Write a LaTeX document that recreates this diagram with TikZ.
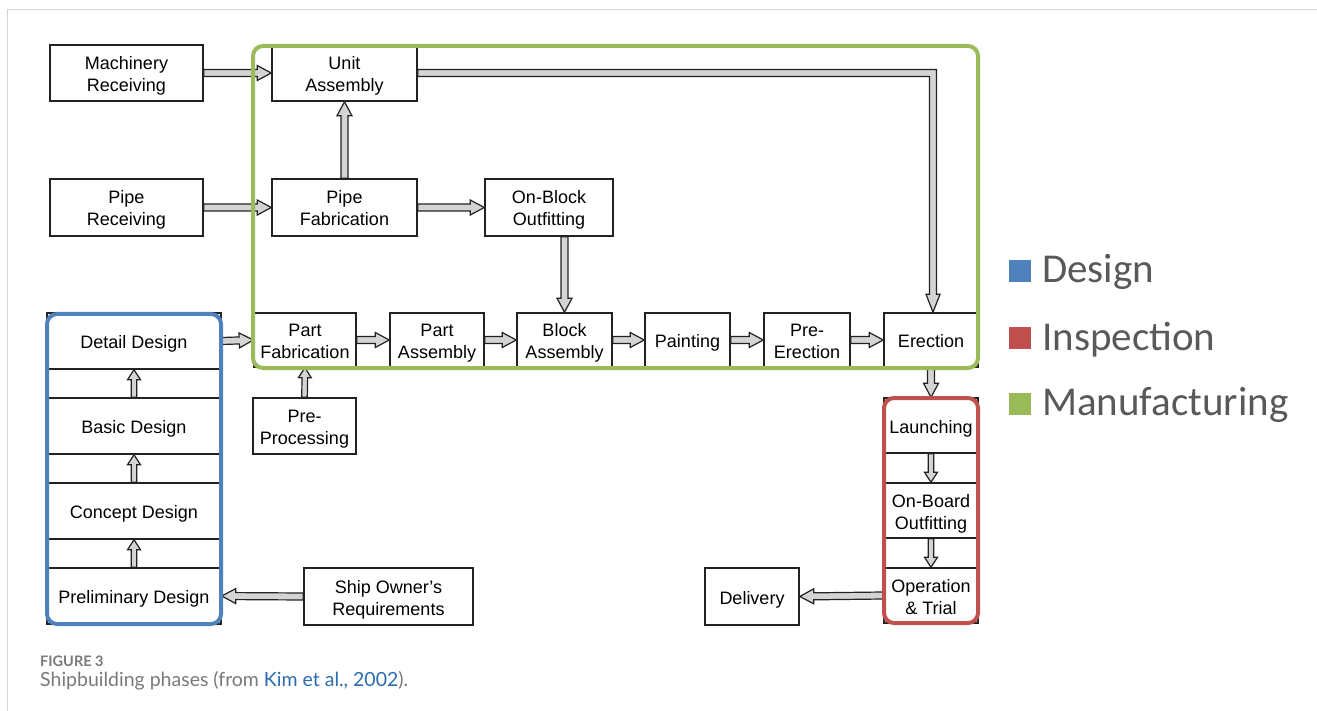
\documentclass[tikz,border=0pt]{standalone}
\usepackage{fontspec}
\setmainfont{Liberation Sans}
\newfontfamily\legfont{Carlito}
\newfontfamily\capfont{Lato}
\usetikzlibrary{calc}
\definecolor{mgreen}{HTML}{9BBB59}
\definecolor{mblue}{HTML}{4F81BD}
\definecolor{mred}{HTML}{C0504D}
\definecolor{arrgray}{HTML}{D4D4D4}
\definecolor{framegray}{HTML}{D4D4D4}
\definecolor{boxline}{HTML}{222222}
\definecolor{legtext}{HTML}{595959}
\definecolor{capgray}{HTML}{7A7A7A}
\definecolor{caplink}{HTML}{2B6CB0}
\newcommand\topst{\rule{0pt}{19pt}}
\newcommand\botst{\rule[-4pt]{0pt}{4pt}}
\newcommand\twoline[2]{\topst #1\\#2\botst}
\def\arsw{3.5pt}\def\arhw{7.5pt}\def\arhl{14pt}
\tikzset{
  bigarr/.code={\def\arsw{3.5pt}\def\arhw{7.5pt}\def\arhl{14pt}},
  smallarr/.code={\def\arsw{2.8pt}\def\arhw{6.5pt}\def\arhl{10pt}},
  box/.style={draw=boxline, line width=1.5pt, fill=white, align=center, inner sep=0pt,
    font=\fontsize{18}{22}\selectfont,
    execute at begin node={\topst},
    execute at end node={\botst}},
  flow/.style={draw=boxline, fill=arrgray, line width=1.2pt, line join=miter},
  blockto/.style={flow, to path={
      ($(\tikztotarget)!\arhl!(\tikztostart)$) coordinate (ah)
      ($(\tikztostart)!\arsw!90:(\tikztotarget)$)
      -- ($(ah)!\arsw!90:(\tikztotarget)$)
      -- ($(ah)!\arhw!90:(\tikztotarget)$)
      -- (\tikztotarget)
      -- ($(ah)!\arhw!-90:(\tikztotarget)$)
      -- ($(ah)!\arsw!-90:(\tikztotarget)$)
      -- ($(\tikztostart)!\arsw!-90:(\tikztotarget)$) -- cycle}},
  group/.style={line width=4pt, rounded corners=10pt},
  legsq/.style={minimum size=22pt, inner sep=0pt},
  legtxt/.style={anchor=base west, inner sep=0pt, text=legtext, font=\legfont\fontsize{41}{44}\selectfont},
}
\begin{document}
\begin{tikzpicture}[x=1pt,y=-1pt]
\useasboundingbox (0,0) rectangle (1317,711);
\fill[white] (0,0) rectangle (1317,711);
\draw[framegray, line width=1.5pt] (7.5,711) -- (7.5,9.5) -- (1317,9.5);

% boxes
\node[box, minimum width=153, minimum height=56] (mach) at (126.5,73) {\twoline{Machinery}{Receiving}};
\node[box, minimum width=145, minimum height=56] (unit) at (344.5,73) {\twoline{Unit}{Assembly}};
\node[box, minimum width=153, minimum height=57] (piperec) at (126.5,207.5) {\twoline{Pipe}{Receiving}};
\node[box, minimum width=145, minimum height=57] (pipefab) at (344.5,207.5) {\twoline{Pipe}{Fabrication}};
\node[box, minimum width=128, minimum height=57] (onblock) at (549,207.5) {\twoline{On-Block}{Outfitting}};
\node[box, minimum width=102, minimum height=54] (partfab) at (305,340) {\twoline{Part}{Fabrication}};
\node[box, minimum width=94, minimum height=54] (partasm) at (437,340) {\twoline{Part}{Assembly}};
\node[box, minimum width=95, minimum height=54] (blockasm) at (564.5,340) {\twoline{Block}{Assembly}};
\node[box, minimum width=85, minimum height=54] (paint) at (687.5,340) {Painting};
\node[box, minimum width=86, minimum height=54] (preerec) at (807,340) {\twoline{Pre-}{Erection}};
\node[box, minimum width=94, minimum height=54] (erec) at (931,340) {Erection};
\node[box, minimum width=103, minimum height=56] (preproc) at (304.5,426) {\twoline{Pre-}{Processing}};

\node[box, minimum width=174, minimum height=56] (detail) at (134,341) {Detail Design};
\node[box, minimum width=174, minimum height=56] (basic) at (134,426) {Basic Design};
\node[box, minimum width=174, minimum height=56] (concept) at (134,511) {Concept Design};
\node[box, minimum width=174, minimum height=56] (prelim) at (134,596) {Preliminary Design};
\node[box, minimum width=169, minimum height=57] (owner) at (388.5,596.5) {\twoline{Ship Owner's}{Requirements}};

\node[box, minimum width=94, minimum height=55] (launch) at (931,425.5) {Launching};
\node[box, minimum width=94, minimum height=55] (onboard) at (931,510.5) {\twoline{On-Board}{Outfitting}};
\node[box, minimum width=94, minimum height=55] (optrial) at (931,595.5) {\twoline{Operation}{\& Trial}};
\node[box, minimum width=94, minimum height=57] (deliv) at (752,596.5) {Delivery};

% arrows
\path[blockto, bigarr] (mach.east) to (unit.west);
\path[blockto, bigarr] (piperec.east) to (pipefab.west);
\path[blockto, bigarr] (pipefab.north) to (unit.south);
\path[blockto, bigarr] (pipefab.east) to (onblock.west);
\path[blockto, bigarr] (blockasm.north |- onblock.south) to (blockasm.north);
\path[blockto, bigarr] (detail.east) to (partfab.west);
\path[blockto, bigarr] (partfab.east) to (partasm.west);
\path[blockto, bigarr] (partasm.east) to (blockasm.west);
\path[blockto, bigarr] (blockasm.east) to (paint.west);
\path[blockto, bigarr] (paint.east) to (preerec.west);
\path[blockto, bigarr] (preerec.east) to (erec.west);
\path[blockto, bigarr] (erec.south) to (launch.north);
\path[blockto, bigarr] (optrial.west) to (deliv.east);
\path[blockto, bigarr] (owner.west) to (prelim.east);
\path[blockto, smallarr] (preproc.north) to (partfab.south);
\path[blockto, smallarr] (prelim.north) to (concept.south);
\path[blockto, smallarr] (concept.north) to (basic.south);
\path[blockto, smallarr] (basic.north) to (detail.south);
\path[blockto, smallarr] (launch.south) to (onboard.north);
\path[blockto, smallarr] (onboard.south) to (optrial.north);
\path[flow] let \p1=(unit.east), \p2=(erec.north) in
  (\x1,\y1+3.5pt) -- (\x2+5.5pt,\y1+3.5pt) -- (\x2+5.5pt,\y2+18pt) -- (\x2+9pt,\y2+18pt)
  -- (\x2+2pt,\y2) -- (\x2-5pt,\y2+18pt) -- (\x2-1.5pt,\y2+18pt) -- (\x2-1.5pt,\y1-3.5pt)
  -- (\x1,\y1-3.5pt) -- cycle;

% group frames
\draw[group, mgreen] (253,46) rectangle (978,368);
\draw[group, mblue] (47,314) rectangle (221,624);
\draw[group, mred] (884,398) rectangle (978,623);

% legend
\node[legsq, fill=mblue] (lgd) at (1019.5,271.5) {};
\node[legtxt] (lgdt) at (1042,283) {Design};
\node[legsq, fill=mred] (lgi) at (1019.5,338) {};
\node[legtxt] (lgit) at (1042,350) {Inspection};
\node[legsq, fill=mgreen] (lgm) at (1019.5,404) {};
\node[legtxt] (lgmt) at (1042,415) {Manufacturing};

% caption
\node[anchor=base west, inner sep=0pt, text=capgray, font=\capfont\bfseries\fontsize{14.5}{16}\selectfont] (figlab) at (40,666) {FIGURE 3};
\node[anchor=base west, inner sep=0pt, text=capgray, font=\capfont\fontsize{19.5}{22}\selectfont] (cap) at (40,686) {Shipbuilding phases (from \textcolor{caplink}{Kim et al., 2002}).};
\end{tikzpicture}
\end{document}
